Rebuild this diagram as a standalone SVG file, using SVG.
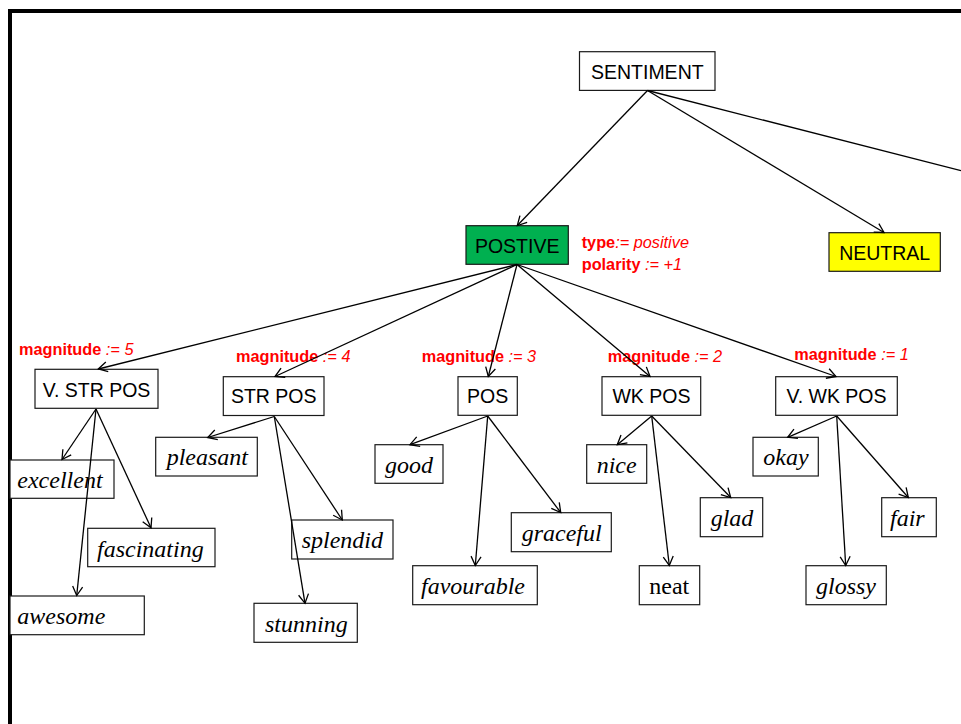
<svg xmlns="http://www.w3.org/2000/svg" width="961" height="724" viewBox="0 0 961 724">
  <style>
    .box { fill: #ffffff; stroke: #1a1a1a; stroke-width: 1.2; }
    .lbl { font-family: "Liberation Sans", Arial, sans-serif; font-size: 19.5px; fill: #000; text-anchor: middle; }
    .leaf { font-family: "Liberation Serif", "Times New Roman", serif; font-size: 24px; font-style: italic; fill: #000; }
    .plain { font-style: normal; }
    .attr { font-family: "Liberation Sans", Arial, sans-serif; font-size: 16.3px; fill: #ff0000; }
    .key { font-weight: bold; }
    .val { font-style: italic; }
    .edge { stroke: #000; stroke-width: 1.3; fill: none; }
    .arrow { stroke: #000; stroke-width: 1.3; fill: none; marker-end: url(#open); }
  </style>
  <defs>
    <marker id="open" markerUnits="userSpaceOnUse" markerWidth="12" markerHeight="12" refX="9" refY="5" orient="auto" overflow="visible">
      <path d="M0,0 L9,5 L0,10" fill="none" stroke="#000" stroke-width="1.3"/>
    </marker>
  </defs>

  <rect x="0" y="0" width="961" height="724" fill="#ffffff"/>

  <!-- frame -->
  <rect x="8" y="9" width="953" height="4" fill="#000"/>
  <rect x="8" y="9" width="4" height="715" fill="#000"/>

  <!-- root and categories -->
  <g id="sentiment">
    <rect class="box" x="579.5" y="51.7" width="135.5" height="38.7"/>
    <text class="lbl" x="647.3" y="79.3">SENTIMENT</text>
  </g>
  <g id="positive">
    <rect x="466" y="225.7" width="102.3" height="38.6" fill="#00b050" stroke="#1a1a1a" stroke-width="1.2"/>
    <text class="lbl" x="517.2" y="253.3">POSTIVE</text>
  </g>
  <g id="neutral">
    <rect x="829" y="232.7" width="111.3" height="38.6" fill="#ffff00" stroke="#1a1a1a" stroke-width="1.2"/>
    <text class="lbl" x="884.7" y="260">NEUTRAL</text>
  </g>

  <!-- attributes of the positive class -->
  <g id="positive-attrs">
    <text class="attr" x="581.7" y="248"><tspan class="key">type</tspan><tspan class="val">:= positive</tspan></text>
    <text class="attr" x="581.7" y="270"><tspan class="key">polarity </tspan><tspan class="val">:= +1</tspan></text>
  </g>

  <!-- strength levels -->
  <g id="v-str-pos">
    <text class="attr" x="19" y="355"><tspan class="key">magnitude </tspan><tspan class="val">:= 5</tspan></text>
    <rect class="box" x="35" y="369.3" width="123" height="39"/>
    <text class="lbl" x="96.5" y="396.7">V. STR POS</text>
  </g>
  <g id="str-pos">
    <text class="attr" x="236" y="362.3"><tspan class="key">magnitude </tspan><tspan class="val">:= 4</tspan></text>
    <rect class="box" x="223.3" y="376.7" width="100.7" height="38.8"/>
    <text class="lbl" x="273.7" y="403.3">STR POS</text>
  </g>
  <g id="pos">
    <text class="attr" x="421.7" y="362.3"><tspan class="key">magnitude </tspan><tspan class="val">:= 3</tspan></text>
    <rect class="box" x="458" y="376.7" width="59.3" height="38.6"/>
    <text class="lbl" x="487.7" y="403.3">POS</text>
  </g>
  <g id="wk-pos">
    <text class="attr" x="607.7" y="362.3"><tspan class="key">magnitude </tspan><tspan class="val">:= 2</tspan></text>
    <rect class="box" x="602" y="376.7" width="98.7" height="38.6"/>
    <text class="lbl" x="651.4" y="403.3">WK POS</text>
  </g>
  <g id="v-wk-pos">
    <text class="attr" x="794.3" y="360"><tspan class="key">magnitude </tspan><tspan class="val">:= 1</tspan></text>
    <rect class="box" x="775.7" y="376.7" width="121.6" height="38.6"/>
    <text class="lbl" x="836.5" y="403.3">V. WK POS</text>
  </g>

  <!-- words -->
  <g id="excellent">
    <rect class="box" x="10" y="460" width="104" height="38.3"/>
    <text class="leaf" x="17.3" y="487.5">excellent</text>
  </g>
  <g id="fascinating">
    <rect class="box" x="87.7" y="528.3" width="127.3" height="38.4"/>
    <text class="leaf" x="97" y="556.5">fascinating</text>
  </g>
  <g id="awesome">
    <rect class="box" x="10" y="596" width="134.3" height="38.7"/>
    <text class="leaf" x="17.3" y="623.5">awesome</text>
  </g>
  <g id="pleasant">
    <rect class="box" x="155.7" y="437.3" width="101.6" height="38.7"/>
    <text class="leaf" x="166.7" y="465">pleasant</text>
  </g>
  <g id="splendid">
    <rect class="box" x="291.7" y="520" width="101.3" height="39"/>
    <text class="leaf" x="301.7" y="548">splendid</text>
  </g>
  <g id="stunning">
    <rect class="box" x="254" y="603.3" width="103.3" height="39"/>
    <text class="leaf" x="265" y="631.5">stunning</text>
  </g>
  <g id="good">
    <rect class="box" x="375" y="444.7" width="68" height="38.6"/>
    <text class="leaf" x="385" y="472.5">good</text>
  </g>
  <g id="graceful">
    <rect class="box" x="511.3" y="512.7" width="100" height="39"/>
    <text class="leaf" x="521.7" y="540.5">graceful</text>
  </g>
  <g id="favourable">
    <rect class="box" x="412.7" y="565.7" width="124.6" height="39"/>
    <text class="leaf" x="421" y="593.5">favourable</text>
  </g>
  <g id="nice">
    <rect class="box" x="586.7" y="444.7" width="60" height="38.6"/>
    <text class="leaf" x="596.7" y="472.5">nice</text>
  </g>
  <g id="neat">
    <rect class="box" x="639.3" y="565.7" width="60.4" height="39"/>
    <text class="leaf plain" x="649.3" y="593.5">neat</text>
  </g>
  <g id="glad">
    <rect class="box" x="700.3" y="497.7" width="62.4" height="39"/>
    <text class="leaf" x="710.7" y="525.5">glad</text>
  </g>
  <g id="okay">
    <rect class="box" x="753" y="437.3" width="65.3" height="38.7"/>
    <text class="leaf" x="763.3" y="465">okay</text>
  </g>
  <g id="fair">
    <rect class="box" x="881.7" y="497.7" width="54.6" height="39"/>
    <text class="leaf" x="890" y="525.5">fair</text>
  </g>
  <g id="glossy">
    <rect class="box" x="806" y="565.7" width="80.3" height="39"/>
    <text class="leaf" x="816" y="593.5">glossy</text>
  </g>

  <!-- connectors, drawn over the boxes they cross -->
  <g id="connectors">
    <line class="arrow" x1="647.5" y1="90.5" x2="517.3" y2="225.5"/>
    <line class="arrow" x1="647.5" y1="90.5" x2="884" y2="232.5"/>
    <line class="edge" x1="647.5" y1="90.5" x2="961" y2="170.7"/>

    <line class="arrow" x1="517" y1="264.5" x2="98.3" y2="369"/>
    <line class="arrow" x1="517" y1="264.5" x2="275" y2="376.5"/>
    <line class="arrow" x1="517" y1="264.5" x2="488.3" y2="376.5"/>
    <line class="arrow" x1="517" y1="264.5" x2="650" y2="376.5"/>
    <line class="arrow" x1="517" y1="264.5" x2="836" y2="376.5"/>

    <line class="arrow" x1="96" y1="409" x2="62" y2="459.5"/>
    <line class="arrow" x1="96" y1="409" x2="76.7" y2="595.5"/>
    <line class="arrow" x1="96" y1="409" x2="151" y2="527.8"/>

    <line class="arrow" x1="274.3" y1="416.5" x2="207.7" y2="437.5"/>
    <line class="arrow" x1="274.3" y1="416.5" x2="305" y2="603.3"/>
    <line class="arrow" x1="274.3" y1="416.5" x2="342.3" y2="520"/>

    <line class="arrow" x1="487.7" y1="416" x2="410" y2="444.7"/>
    <line class="arrow" x1="487.7" y1="416" x2="475.3" y2="565.5"/>
    <line class="arrow" x1="487.7" y1="416" x2="560.7" y2="512.5"/>

    <line class="arrow" x1="651.7" y1="416" x2="617.3" y2="444.7"/>
    <line class="arrow" x1="651.7" y1="416" x2="669.3" y2="565.5"/>
    <line class="arrow" x1="651.7" y1="416" x2="730.7" y2="497.5"/>

    <line class="arrow" x1="836.7" y1="416" x2="787.7" y2="437.3"/>
    <line class="arrow" x1="836.7" y1="416" x2="845.7" y2="565.5"/>
    <line class="arrow" x1="836.7" y1="416" x2="908.3" y2="497.5"/>
  </g>
</svg>
